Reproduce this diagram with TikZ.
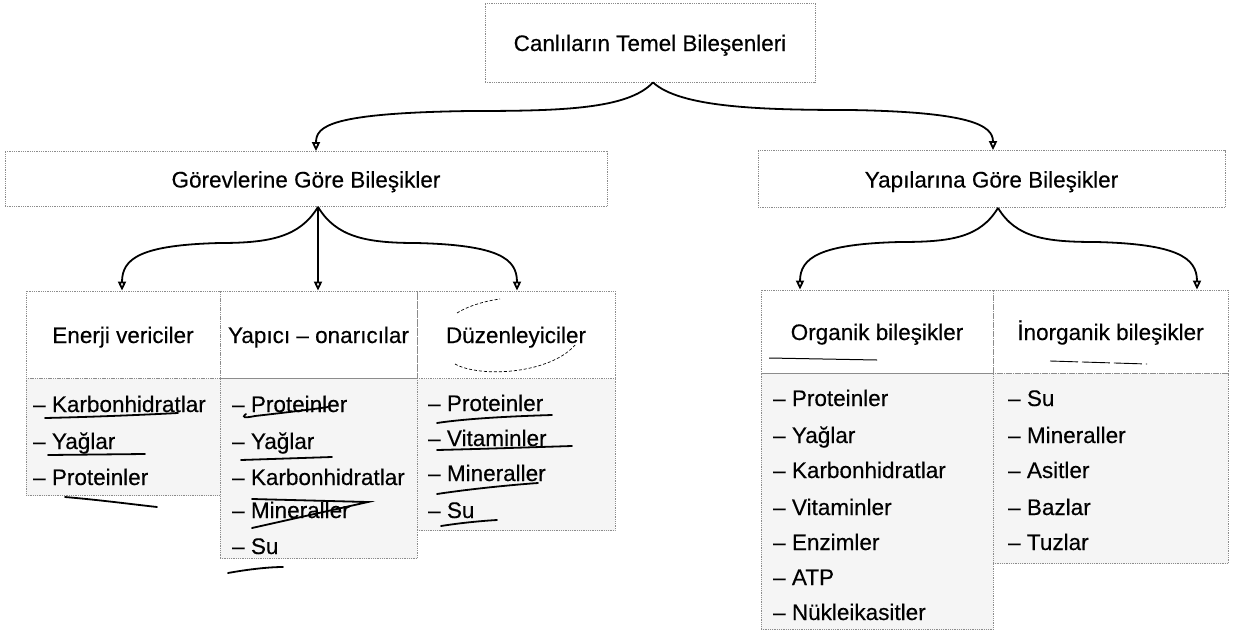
\documentclass[tikz,border=0pt]{standalone}
\usepackage{fontspec}
\setmainfont[FakeBold = 0.3]{Liberation Sans}
\usetikzlibrary{arrows.meta}
\usetikzlibrary{positioning}

\begin{document}
\begin{tikzpicture}[x = 1pt, y = -1pt,
  box/.style = {draw = black!45, densely dotted, line width = .8pt, inner sep = 0pt, text height = 20pt, text depth = 3pt, font = \fontsize{22.5}{27}\selectfont},
  listbox/.style = {box, fill = black!4, anchor = north},
  item/.style = {inner sep = 0pt, anchor = base west, font = \fontsize{22.5}{27}\selectfont},
  link/.style = {line width = 1.8pt, -{Triangle[open, length = 9pt, width = 8pt]}},
  pen/.style = {line width = 1.8pt, line cap = round}]
 \useasboundingbox (0, 0) rectangle (1234, 632);
 % kutular
  \node [box, minimum width = 330, minimum height = 79] (root) at (650, 42.5) {Canlıların Temel Bileşenleri};
  \node [box, minimum width = 602, minimum height = 55] (gorev) at (306, 179) {Görevlerine Göre Bileşikler};
  \node [box, minimum width = 467, minimum height = 57] (yapi) at (991.5, 179) {Yapılarına Göre Bileşikler};
  \node [box, minimum width = 194, minimum height = 87] (enerji) at (123, 334.5) {Enerji vericiler};
  \node [box, minimum width = 197, minimum height = 87] (yapici) at (318.5, 334.5) {Yapıcı – onarıcılar};
  \node [box, minimum width = 198, minimum height = 87] (duzen) at (516, 334.5) {Düzenleyiciler};
  \node [box, minimum width = 232, minimum height = 83] (organik) at (877, 331.5) {Organik bileşikler};
  \node [box, minimum width = 235, minimum height = 83] (inorganik) at (1110.5, 331.5) {İnorganik bileşikler};
 % listeler
  \node [listbox, minimum width = 194, minimum height = 117] (enerjiL) at (enerji.south) {};
  \node [listbox, minimum width = 197, minimum height = 180] (yapiciL) at (yapici.south) {};
  \node [listbox, minimum width = 198, minimum height = 152] (duzenL) at (duzen.south) {};
  \node [listbox, minimum width = 232, minimum height = 256] (organikL) at (organik.south) {};
  \node [listbox, minimum width = 235, minimum height = 190] (inorganikL) at (inorganik.south) {};
  \node [item] (e1) at (33, 412) {– Karbonhidratlar};
  \node [item] (e2) at (33, 449) {– Yağlar};
  \node [item] (e3) at (33, 485) {– Proteinler};
  \node [item] (y1) at (232, 412) {– Proteinler};
  \node [item] (y2) at (232, 449) {– Yağlar};
  \node [item] (y3) at (232, 485) {– Karbonhidratlar};
  \node [item] (y4) at (232, 518) {– Mineraller};
  \node [item] (y5) at (232, 554) {– Su};
  \node [item] (d1) at (428, 411) {– Proteinler};
  \node [item] (d2) at (428, 446) {– Vitaminler};
  \node [item] (d3) at (428, 481) {– Mineraller};
  \node [item] (d4) at (428, 518) {– Su};
  \node [item] (o1) at (773, 406) {– Proteinler};
  \node [item] (o2) at (773, 443) {– Yağlar};
  \node [item] (o3) at (773, 478) {– Karbonhidratlar};
  \node [item] (o4) at (773, 515) {– Vitaminler};
  \node [item] (o5) at (773, 550) {– Enzimler};
  \node [item] (o6) at (773, 585) {– ATP};
  \node [item] (o7) at (773, 620) {– Nükleikasitler};
  \node [item] (i1) at (1008, 406) {– Su};
  \node [item] (i2) at (1008, 443) {– Mineraller};
  \node [item] (i3) at (1008, 478) {– Asitler};
  \node [item] (i4) at (1008, 515) {– Bazlar};
  \node [item] (i5) at (1008, 550) {– Tuzlar};
 % oklar
  \draw [link] ([xshift = 3pt]root.south) .. controls +(-25, 27) and +(90, 0) .. (470, 111) .. controls +(-140, 2) and +(0, -25) .. ([xshift = 10pt]gorev.north);
  \draw [link] ([xshift = 3pt]root.south) .. controls +(27, 25) and +(-90, 0) .. (850, 110) .. controls +(120, 2) and +(0, -25) .. ([xshift = 1.5pt]yapi.north);
  \draw [link] ([xshift = 12pt]gorev.south) .. controls +(-18, 30) and +(50, 0) .. (220, 243) .. controls +(-80, 2) and +(0, -32) .. ([xshift = -1pt]enerji.north);
  \draw [link] ([xshift = 12pt]gorev.south) -- ([xshift = -.5pt]yapici.north);
  \draw [link] ([xshift = 12pt]gorev.south) .. controls +(18, 30) and +(-50, 0) .. (416, 243) .. controls +(83, 2) and +(0, -32) .. ([xshift = 1pt]duzen.north);
  \draw [link] ([xshift = 6.5pt]yapi.south) .. controls +(-18, 30) and +(50, 0) .. (900, 242) .. controls +(-80, 2) and +(0, -32) .. ([xshift = -77pt]organik.north);
  \draw [link] ([xshift = 6.5pt]yapi.south) .. controls +(18, 30) and +(-50, 0) .. (1096, 242) .. controls +(81, 2) and +(0, -32) .. ([xshift = 86.5pt]inorganik.north);
 % kalem izleri
  \draw [pen] (45, 418) .. controls (90, 417) and (140, 415) .. (178, 413);
  \draw [pen] (48, 455) -- (145, 454);
  \draw [pen] (65, 497) .. controls (100, 500) and (130, 504) .. (157, 507);
  \draw [pen] (246, 414) .. controls (241, 418) and (245, 418) .. (255, 416) .. controls (290, 412) and (315, 409) .. (328, 407);
  \draw [pen] (241, 460) -- (332, 457);
  \draw [pen] (252, 499) -- (368, 502) -- (252, 528);
  \draw [pen] (228, 573) .. controls (250, 569) and (270, 567) .. (283, 567);
  \draw [pen] (437, 423) .. controls (470, 418) and (520, 416) .. (552, 415);
  \draw [pen] (437, 450) .. controls (480, 449) and (540, 447) .. (572, 446);
  \draw [pen] (437, 494) .. controls (470, 489) and (510, 485) .. (538, 483);
  \draw [pen] (441, 526) .. controls (460, 523) and (480, 521) .. (497, 520);
  \draw [densely dashed, line width = .7pt] (457, 313) .. controls (468, 306) and (485, 301) .. (500, 299);
  \draw [densely dashed, line width = .7pt] (455, 364) .. controls (480, 378) and (550, 374) .. (575, 345);
  \draw [line width = 1pt] (769, 358) -- (877, 360);
  \draw [line width = .9pt, dash pattern = on 28pt off 4pt] (1050, 361) -- (1147, 364);
 \end{tikzpicture}
\end{document}
